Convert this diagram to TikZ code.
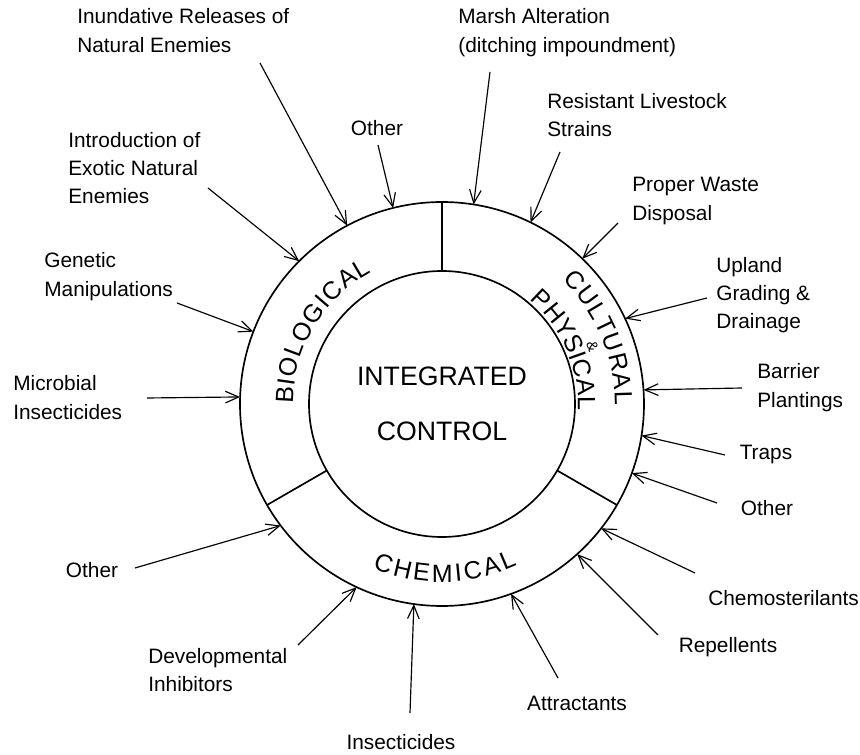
\documentclass[tikz,border=0pt]{standalone}
\usepackage{fontspec}
\setmainfont{Liberation Sans}
\usetikzlibrary{arrows.meta,decorations.text}

\newcommand{\ringfont}{\fontsize{15}{15}\selectfont}

\begin{document}
\begin{tikzpicture}[
    x=0.6pt,y=0.6pt,
    ring/.style={circle,draw,line width=1pt,outer sep=0pt},
    lbl/.style={inner sep=0pt,align=left,font=\fontsize{12.5}{17}\selectfont},
    sector/.style={decorate,decoration={text along path,text align={fit to path},text={|\ringfont|#1}}},
    arr/.style={line width=0.7pt,-{Straight Barb[length=8pt,width=7pt]}}
  ]
    \useasboundingbox (-442,-351) rectangle (418,404);
    % the two rings and the three sectors
    \node[ring,minimum size=242.4pt] (outer) at (0,0) {};
    \node[ring,minimum size=159.6pt,align=center,font=\fontsize{16}{19}\selectfont] (core) at (0,0) {INTEGRATED\\[14pt]CONTROL};
    \draw[line width=1pt] (core.90) -- (outer.90) (core.210) -- (outer.210) (core.330) -- (outer.330);
    % sector names
    \path[sector=BIOLOGICAL] (180:149) arc[start angle=180,end angle=118,radius=149];
    \path[sector=CULTURAL] (46:173) arc[start angle=46,end angle=-0.5,radius=173];
    \path[sector=PHYSICAL] (49.8:136) arc[start angle=49.8,end angle=-2.5,radius=136];
    \node[inner sep=0pt,font=\fontsize{9}{9}\selectfont,rotate=-69] (amp) at (20.8:161) {\&};
    \path[sector=CHEMICAL] (247:178) arc[start angle=247,end angle=295,radius=178];
    % labels
    \node[lbl,anchor=west] (inund) at (-365,373.5) {Inundative Releases of\\Natural Enemies};
    \node[lbl,anchor=west] (marsh) at (16,371.5) {Marsh Alteration\\(ditching impoundment)};
    \node[lbl] (othtop) at (-65,276) {Other};
    \node[lbl,anchor=west] (intro) at (-374,236) {Introduction of\\Exotic Natural\\Enemies};
    \node[lbl,anchor=west] (resist) at (105,289) {Resistant Livestock\\Strains};
    \node[lbl,anchor=west] (waste) at (190,203) {Proper Waste\\Disposal};
    \node[lbl,anchor=west] (genet) at (-398,127.5) {Genetic\\Manipulations};
    \node[lbl,anchor=west] (upland) at (274,109) {Upland\\Grading \&\\Drainage};
    \node[lbl,anchor=west] (micro) at (-429,6.5) {Microbial\\Insecticides};
    \node[lbl,anchor=west] (barrier) at (315,16.5) {Barrier\\Plantings};
    \node[lbl] (traps) at (324,-51) {Traps};
    \node[lbl] (othright) at (325,-104) {Other};
    \node[lbl] (othleft) at (-350,-166) {Other};
    \node[lbl,anchor=west] (chemo) at (266,-194) {Chemosterilants};
    \node[lbl] (repel) at (286,-243) {Repellents};
    \node[lbl,anchor=west] (devel) at (-294,-266) {Developmental\\Inhibitors};
    \node[lbl] (attract) at (135,-299) {Attractants};
    \node[lbl] (insect) at (-41,-338) {Insecticides};
    % arrow tails
    \coordinate (t-inund) at (-182,341);
    \coordinate (t-marsh) at (48,332);
    \coordinate (t-othtop) at (-64,259);
    \coordinate (t-intro) at (-234,216);
    \coordinate (t-resist) at (118,252);
    \coordinate (t-waste) at (176,181);
    \coordinate (t-genet) at (-265,101);
    \coordinate (t-upland) at (265,106);
    \coordinate (t-micro) at (-295,6);
    \coordinate (t-barrier) at (300,16);
    \coordinate (t-traps) at (283,-51);
    \coordinate (t-othright) at (275,-99);
    \coordinate (t-othleft) at (-307,-164);
    \coordinate (t-chemo) at (253,-169);
    \coordinate (t-repel) at (216,-231);
    \coordinate (t-devel) at (-144,-241);
    \coordinate (t-attract) at (116,-274);
    \coordinate (t-insect) at (-32,-309);
    % arrows into the ring
    \draw[arr] (t-inund) -- (outer.118.7);
    \draw[arr] (t-marsh) -- (outer.81.2);
    \draw[arr] (t-othtop) -- (outer.104.9);
    \draw[arr] (t-intro) -- (outer.135.6);
    \draw[arr] (t-resist) -- (outer.64.2);
    \draw[arr] (t-waste) -- (outer.46.4);
    \draw[arr] (t-genet) -- (outer.159.5);
    \draw[arr] (t-upland) -- (outer.25);
    \draw[arr] (t-micro) -- (outer.178.3);
    \draw[arr] (t-barrier) -- (outer.4.5);
    \draw[arr] (t-traps) -- (outer.-9.5);
    \draw[arr] (t-othright) -- (outer.-20.7);
    \draw[arr] (t-othleft) -- (outer.217.2);
    \draw[arr] (t-chemo) -- (outer.-38);
    \draw[arr] (t-repel) -- (outer.-48);
    \draw[arr] (t-devel) -- (outer.245);
    \draw[arr] (t-attract) -- (outer.-70);
    \draw[arr] (t-insect) -- (outer.262);
  \end{tikzpicture}
\end{document}
